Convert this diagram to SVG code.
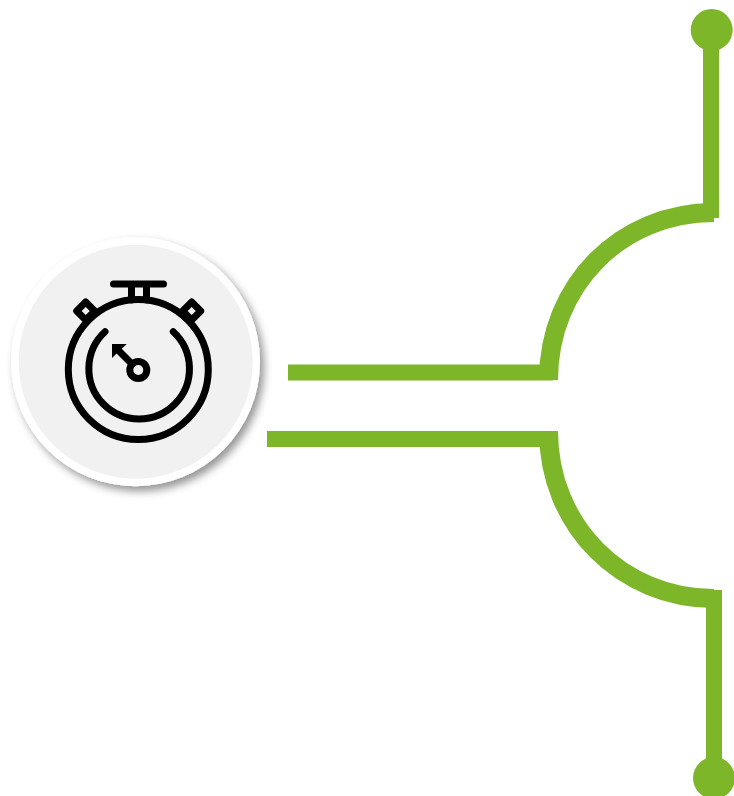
<svg xmlns="http://www.w3.org/2000/svg" width="734" height="796" viewBox="0 0 734 796">
<style>
.g{fill:none;stroke:#7db628}
.i{fill:none;stroke:#000;stroke-width:7;stroke-linecap:round;stroke-linejoin:round}
</style>
<defs>
<filter id="s" x="-20%" y="-20%" width="140%" height="140%"><feDropShadow dx="4" dy="5" stdDeviation="4" flood-color="#000" flood-opacity=".42"/></filter>
<filter id="b" x="-10%" y="-10%" width="120%" height="120%"><feGaussianBlur stdDeviation=".6"/></filter>
</defs>
<rect width="734" height="796" fill="#fff"/>
<g id="connectors">
<path class="g" stroke-width="16" d="M288 372.500H553"/>
<path class="g" stroke-width="16" d="M267 439H553"/>
<path class="g" stroke-width="19" d="M714 212.500C620 212.500 548.500 286 548.500 380"/>
<path class="g" stroke-width="19" d="M548.500 431C548.500 526 622 598.500 714 598.500"/>
<path class="g" stroke-width="16" d="M711 40V218"/>
<path class="g" stroke-width="16" d="M714 590V770"/>
</g>
<g id="node-top"><circle cx="711.700" cy="30" r="21" fill="#7db628"/></g>
<g id="node-bottom"><circle cx="714" cy="778" r="21" fill="#7db628"/></g>
<g id="node-stopwatch">
<circle cx="135.500" cy="361.700" r="124.500" fill="#fff" filter="url(#s)"/>
<circle cx="135.700" cy="361.700" r="117" fill="#f1f1f1"/>
<g filter="url(#b)">
<path class="i" d="M113.500 284H163.500M131.500 284V300M146.500 284V300"/>
<path class="i" stroke-width="6" stroke-linecap="butt" d="M85.700 302L76.700 311L85.700 320L94.700 311Z"/>
<path class="i" stroke-width="6" stroke-linecap="butt" d="M191.700 302L182.700 311L191.700 320L200.700 311Z"/>
<circle class="i" cx="138.300" cy="369.500" r="70"/>
<path class="i" d="M105 331.700A50.300 50.300 0 1 0 173.300 331.700"/>
<circle class="i" cx="138.300" cy="370" r="8.500" stroke-width="6"/>
<path class="i" stroke-width="6" stroke-linecap="butt" d="M118 350L132 364"/>
<path d="M112 344H126.700L112 358Z" fill="#000"/>
</g>
</g>
</svg>
